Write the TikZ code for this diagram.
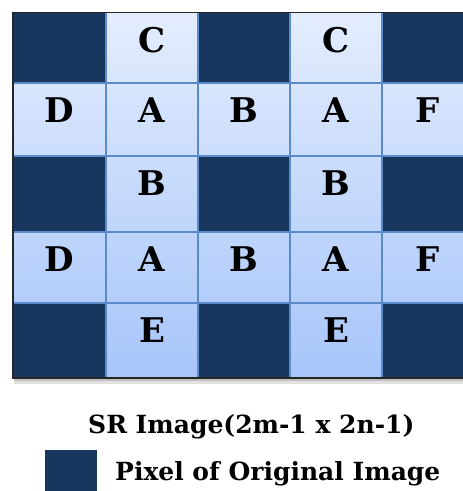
\documentclass[tikz,border=0pt]{standalone}
\usepackage{fontspec}
\setmainfont{DejaVu Serif}
\definecolor{darkpix}{HTML}{17375E}
\definecolor{lighttop}{HTML}{E3EDFE}
\definecolor{lightbot}{HTML}{A7C5F9}
\definecolor{gridline}{HTML}{5B8CC9}
\begin{document}
\begin{tikzpicture}[x=1pt,y=-1pt,
  letter/.style={font=\fontsize{34}{38}\selectfont\bfseries, anchor=base, inner sep=0pt},
  caption/.style={font=\fontsize{25}{28}\selectfont\bfseries, anchor=base west, inner sep=0pt},
  darkcell/.style={fill=darkpix},
  gridrule/.style={draw=gridline, line width=1.3pt}]
\useasboundingbox (0,0) rectangle (463,491);
\begin{scope}
\clip (0,0) rectangle (463,491);
% shadow
\fill[black!12] (14,378) rectangle (476,384);
\fill[black!25] (14,378) rectangle (476,381);
% light background
\shade[top color=lighttop,bottom color=lightbot] (13,12.5) rectangle (474,378);
% dark cells
\foreach \ya/\yb in {12.5/83, 156/232, 303/378}
  \foreach \xa/\xb in {13/106, 198/290, 382/474}
    \fill[darkcell] (\xa,\ya) rectangle (\xb,\yb);
% grid lines
\foreach \x in {106,198,290,382}
  \draw[gridrule] (\x,12.5) -- (\x,378);
\foreach \y in {83,156,232,303}
  \draw[gridrule] (13,\y) -- (474,\y);
% border
\draw[line width=1.6pt, black!85] (13,12.5) rectangle (474,378);
\end{scope}
% letters
\node[letter] (c1) at (152,52) {C};
\node[letter] (c2) at (336,52) {C};
\node[letter] (d1) at (59.5,122.5) {D};
\node[letter] (a1) at (152,122.5) {A};
\node[letter] (b1) at (244,122.5) {B};
\node[letter] (a2) at (336,122.5) {A};
\node[letter] (f1) at (428,122.5) {F};
\node[letter] (b2) at (152,195.5) {B};
\node[letter] (b3) at (336,195.5) {B};
\node[letter] (d2) at (59.5,271.5) {D};
\node[letter] (a3) at (152,271.5) {A};
\node[letter] (b4) at (244,271.5) {B};
\node[letter] (a4) at (336,271.5) {A};
\node[letter] (f2) at (428,271.5) {F};
\node[letter] (e1) at (152,342.5) {E};
\node[letter] (e2) at (336,342.5) {E};
% caption and legend
\node[caption] (title) at (88,433) {SR Image(2m-1 x 2n-1)};
\fill[darkpix] (45,450) rectangle (97,491);
\node[caption] (legend) at (115,480) {Pixel of Original Image};
\end{tikzpicture}
\end{document}
